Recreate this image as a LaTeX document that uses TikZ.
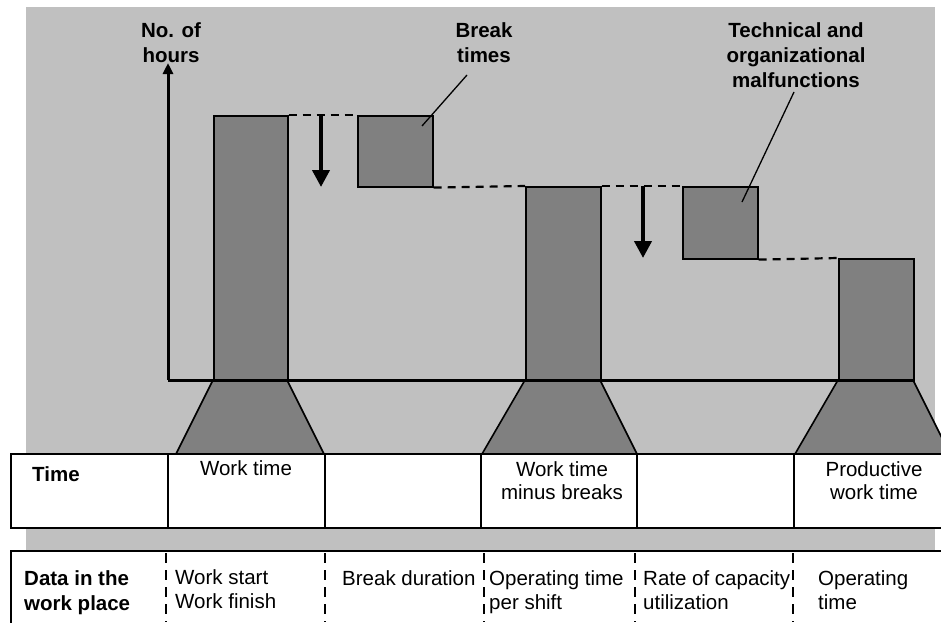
\documentclass[tikz,border=0pt]{standalone}
\usepackage{fontspec}
\setmainfont{Liberation Sans}
\usetikzlibrary{arrows.meta}
\definecolor{bgc}{HTML}{C0C0C0}
\definecolor{darkc}{HTML}{808080}
\newcommand\ctext[1]{\vtop{\halign{\hfil##\hfil\cr#1\crcr}}}
\newcommand\ltext[1]{\vtop{\halign{##\hfil\cr#1\crcr}}}
\begin{document}
\begin{tikzpicture}[x=1pt,y=-1pt,
  txt/.style={inner sep=0pt,anchor=base,font=\fontsize{20.5}{23.5}\selectfont},
  ltxt/.style={inner sep=0pt,anchor=base west,font=\fontsize{20.5}{24.5}\selectfont},
  head/.style={inner sep=0pt,anchor=base,font=\fontsize{20.5}{25}\selectfont\bfseries},
  bar/.style={draw=black,fill=darkc,line width=1.6pt,inner sep=0pt,anchor=north west},
  trap/.style={draw=black,fill=darkc,line width=1.6pt},
  guide/.style={line width=2.2pt,dash pattern=on 8pt off 6pt},
  drop/.style={line width=4pt,-{Triangle[width=17pt,length=17pt]}},
  cell/.style={line width=2pt},
  dcell/.style={line width=2.2pt,dash pattern=on 10pt off 7pt},
  leader/.style={line width=1.3pt}]
\useasboundingbox (0,0) rectangle (941,622);
% background
\fill[bgc] (26,7) rectangle (935,550);
% trapezoids
\draw[trap] (213,380) -- (287,380) -- (324,454) -- (176,454) -- cycle;
\draw[trap] (525,380) -- (600,380) -- (637,454) -- (482,454) -- cycle;
\draw[trap] (838,380) -- (913,380) -- (950,454) -- (795,454) -- cycle;
% bars and boxes
\node[bar,minimum width=74pt,minimum height=265pt] (b1) at (213,115) {};
\node[bar,minimum width=75pt,minimum height=194pt] (b2) at (525,186) {};
\node[bar,minimum width=75pt,minimum height=122pt] (b3) at (838,258) {};
\node[bar,minimum width=75pt,minimum height=71pt] (k1) at (357,115) {};
\node[bar,minimum width=75pt,minimum height=72pt] (k2) at (682,186) {};
% axes
\coordinate (org) at (168,380);
\coordinate (ytop) at (168,63);
\coordinate (xend) at (913,380);
\draw[line width=3pt,-{Triangle[width=10pt,length=11pt]}] (org) -- (ytop);
\draw[line width=3pt] (org) -- (xend);
% dashed guides
\draw[guide] (b1.north east) -- (k1.north west);
\draw[guide] (k1.south east) -- (b2.north west);
\draw[guide] (b2.north east) -- (k2.north west);
\draw[guide] (k2.south east) -- (b3.north west);
% drop arrows
\coordinate (a1s) at (321,115); \coordinate (a1e) at (321,187);
\coordinate (a2s) at (643,186); \coordinate (a2e) at (643,258);
\draw[drop] (a1s) -- (a1e);
\draw[drop] (a2s) -- (a2e);
% header labels
\node[head] (hrs) at (171,37) {\ctext{No. of\cr hours}};
\node[head] (brk) at (484,37) {\ctext{Break\cr times}};
\node[head] (tec) at (796,37) {\ctext{Technical and\cr organizational\cr malfunctions}};
\coordinate (l1a) at (467,75); \coordinate (l1b) at (422,126);
\coordinate (l2a) at (794,92); \coordinate (l2b) at (742,202);
\draw[leader] (l1a) -- (l1b);
\draw[leader] (l2a) -- (l2b);
% table 1
\fill[white] (11,454) rectangle (950,528);
\draw[cell] (950,454) -- (11,454) -- (11,528) -- (950,528);
\foreach \c in {168,325,481,637,794} \draw[cell] (\c,454) -- (\c,528);
\node[head,anchor=base west] (t1) at (32,481) {Time};
\node[txt] (c1) at (246,475) {\ctext{Work time}};
\node[txt] (c3) at (562,476) {\ctext{Work time\cr minus breaks}};
\node[txt] (c5) at (874,476) {\ctext{Productive\cr work time}};
% table 2
\fill[white] (11,551) rectangle (950,630);
\draw[cell] (950,551) -- (11,551) -- (11,630);
\foreach \c in {166,325,484,635,793} \draw[dcell] (\c,553) -- (\c,622);
\node[head,anchor=base west] (d0) at (24,585) {\ltext{Data in the\cr work place}};
\node[ltxt] (d1) at (175,584) {\ltext{Work start\cr Work finish}};
\node[ltxt] (d2) at (342,585) {\ltext{Break duration}};
\node[ltxt] (d3) at (489,585) {\ltext{Operating time\cr per shift}};
\node[ltxt] (d4) at (643,585) {\ltext{Rate of capacity\cr utilization}};
\node[ltxt] (d5) at (818,585) {\ltext{Operating\cr time}};
\end{tikzpicture}
\end{document}
